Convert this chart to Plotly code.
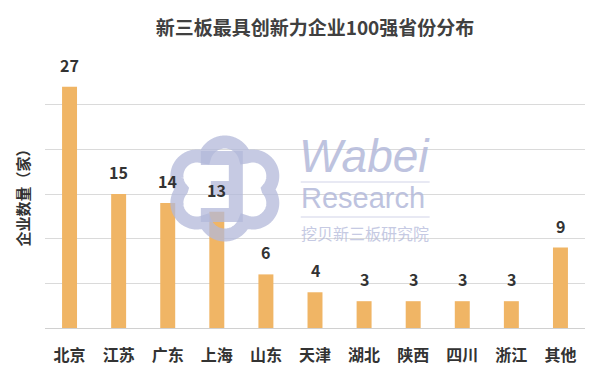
import numpy as np
import plotly.graph_objects as go

categories = ["北京", "江苏", "广东", "上海", "山东", "天津", "湖北", "陕西", "四川", "浙江", "其他"]
counts = [27, 15, 14, 13, 6, 4, 3, 3, 3, 3, 9]
y_ticks = [0, 5, 10, 15, 20, 25, 30]

FONT = "Noto Sans CJK SC"
W, H = 584, 359
L, R, T, B = 37, 6.5, 52, 39
PW, PH = W - L - R, H - T - B

fig = go.Figure(go.Bar(
    x=categories, y=counts,
    marker=dict(color="#F0B565", line=dict(width=0)),
    hoverinfo="skip",
))

for c, v in zip(categories, counts):
    fig.add_annotation(x=c, y=v, text=f"<b>{v}</b>", showarrow=False,
                       yanchor="bottom", yshift=8,
                       font=dict(family=FONT, size=16, color="#333333"))

fig.update_layout(
    width=W, height=H,
    margin=dict(l=L, r=R, t=T, b=B, autoexpand=False),
    paper_bgcolor="white", plot_bgcolor="white",
    bargap=0.695,
    showlegend=False,
    title=dict(text="<b>新三板最具创新力企业100强省份分布</b>", x=0.5, xanchor="center",
               xref="paper", y=0.944, yanchor="middle",
               font=dict(family=FONT, size=19, color="#404040")),
    xaxis=dict(tickfont=dict(family=FONT, size=16, color="#333333"),
               tickvals=categories, ticktext=[f"<b>{c}</b>" for c in categories],
               showline=True, linecolor="#d0d0d0", linewidth=1, ticks="",
               ticklabelstandoff=13, fixedrange=True),
    yaxis=dict(range=[0, 30], tickvals=y_ticks, showticklabels=False,
               showgrid=True, gridcolor="#dadada", gridwidth=1, zeroline=False,
               fixedrange=True,
               title=dict(text="<b>企业数量（家）</b>",
                          font=dict(family=FONT, size=15, color="#333333"),
                          standoff=10)),
    font=dict(family=FONT),
)

# ---- watermark (decoration), positioned in page pixels ----
def px(X):
    return (X - 8 - L) / PW

def py(Y):
    return (T + PH - (Y - 8)) / PH

wm = "#b3b9da"
NOFILL = "rgba(0,0,0,0)"
fig.add_annotation(text="<i>Wabei</i>", xref="paper", yref="paper", x=px(297), y=py(156),
                   xanchor="left", yanchor="middle", showarrow=False,
                   font=dict(family="Liberation Sans", size=46, color=wm), opacity=0.85)
fig.add_annotation(text="Research", xref="paper", yref="paper", x=px(299), y=py(198),
                   xanchor="left", yanchor="middle", showarrow=False,
                   font=dict(family="Liberation Sans", size=29, color=wm), opacity=0.85)
fig.add_annotation(text="挖贝新三板研究院", xref="paper", yref="paper", x=px(299), y=py(233),
                   xanchor="left", yanchor="middle", showarrow=False,
                   font=dict(family=FONT, size=16, color=wm), opacity=0.75)
for yy in (182, 217):
    fig.add_shape(type="line", xref="paper", yref="paper", x0=px(301), x1=px(430),
                  y0=py(yy), y1=py(yy), line=dict(color=wm, width=1), opacity=0.6)

# cloud outline: outer boundary of the union of six lobes (ray casting from centre)
lobes = [(225, 163, 21), (225, 214, 21), (197, 176, 20), (197, 203, 20),
         (253, 176, 20), (253, 203, 20)]
cx, cy = 225, 188.5
outline = []
for t in np.linspace(0, 2 * np.pi, 360, endpoint=False):
    dx, dy = np.cos(t), np.sin(t)
    best = 0.0
    for (ax, ay, r) in lobes:
        ox, oy = ax - cx, ay - cy
        p = dx * ox + dy * oy
        disc = p * p - (ox * ox + oy * oy) + r * r
        if disc >= 0:
            best = max(best, p + np.sqrt(disc))
    outline.append((cx + best * dx, cy + best * dy))
path = "M " + " L ".join(f"{px(x):.5f},{py(y):.5f}" for x, y in outline) + " Z"
fig.add_shape(type="path", xref="paper", yref="paper", path=path, fillcolor=NOFILL,
              line=dict(color=wm, width=13), opacity=0.75, layer="above")

# the "3" inside the cloud
three = (f"M {px(201):.5f},{py(158):.5f} L {px(236):.5f},{py(158):.5f} "
         f"L {px(236):.5f},{py(215):.5f} L {px(201):.5f},{py(215):.5f} "
         f"M {px(211):.5f},{py(188):.5f} L {px(236):.5f},{py(188):.5f}")
fig.add_shape(type="path", xref="paper", yref="paper", path=three, fillcolor=NOFILL,
              line=dict(color=wm, width=14), opacity=0.75, layer="above")

fig.write_html("out.html")
